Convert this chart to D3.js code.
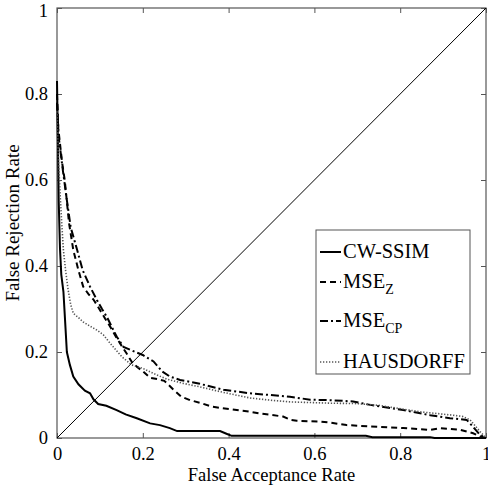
<!DOCTYPE html>
<html>
<head>
<meta charset="utf-8">
<script src="https://cdn.jsdelivr.net/npm/d3@7"></script>
<style>
  body { margin: 0; background: #fff; }
  text { font-family: "Liberation Serif", "Times New Roman", serif; }
</style>
</head>
<body>
<div id="chart"></div>
<script>
// ROC-style curves: false acceptance rate (x) vs false rejection rate (y)
var ticks = [0, 0.2, 0.4, 0.6, 0.8, 1];
var tickLabels = ["0", "0.2", "0.4", "0.6", "0.8", "1"];

var cwssimFar = [0, 0.002, 0.004, 0.007, 0.01, 0.015, 0.019, 0.023, 0.03, 0.038, 0.05, 0.065, 0.077, 0.085, 0.096, 0.115, 0.139, 0.16, 0.186, 0.217, 0.24, 0.263, 0.28, 0.38, 0.395, 0.407, 0.72, 0.735, 0.87, 0.88, 1];
var cwssimFrr = [0.83, 0.7, 0.55, 0.44, 0.38, 0.34, 0.27, 0.2, 0.17, 0.143, 0.125, 0.11, 0.104, 0.09, 0.079, 0.075, 0.065, 0.055, 0.046, 0.034, 0.03, 0.023, 0.016, 0.016, 0.01, 0.005, 0.005, 0.002, 0.002, 0, 0];

var mseZFar = [0, 0.003, 0.012, 0.018, 0.028, 0.038, 0.05, 0.061, 0.073, 0.085, 0.1, 0.112, 0.124, 0.136, 0.147, 0.162, 0.175, 0.186, 0.2, 0.217, 0.235, 0.25, 0.271, 0.29, 0.31, 0.333, 0.357, 0.38, 0.419, 0.45, 0.473, 0.527, 0.545, 0.559, 0.613, 0.636, 0.675, 0.75, 0.807, 0.87, 0.893, 0.94, 0.97, 0.986, 1];
var mseZFrr = [0.8, 0.72, 0.64, 0.6, 0.5, 0.437, 0.39, 0.352, 0.335, 0.322, 0.298, 0.278, 0.259, 0.238, 0.22, 0.197, 0.176, 0.166, 0.155, 0.14, 0.137, 0.133, 0.113, 0.096, 0.088, 0.082, 0.074, 0.07, 0.065, 0.061, 0.057, 0.05, 0.042, 0.04, 0.038, 0.036, 0.03, 0.026, 0.023, 0.019, 0.023, 0.019, 0.011, 0.004, 0];

var mseCpFar = [0, 0.004, 0.014, 0.022, 0.032, 0.047, 0.06, 0.077, 0.093, 0.105, 0.116, 0.128, 0.139, 0.155, 0.178, 0.2, 0.225, 0.245, 0.263, 0.287, 0.333, 0.388, 0.45, 0.497, 0.543, 0.59, 0.636, 0.69, 0.73, 0.807, 0.87, 0.916, 0.955, 0.97, 0.986, 1];
var mseCpFrr = [0.78, 0.7, 0.62, 0.56, 0.49, 0.437, 0.39, 0.352, 0.321, 0.3, 0.282, 0.258, 0.236, 0.212, 0.202, 0.193, 0.178, 0.155, 0.143, 0.135, 0.126, 0.112, 0.104, 0.1, 0.096, 0.089, 0.088, 0.085, 0.077, 0.065, 0.053, 0.046, 0.042, 0.026, 0.007, 0];

var hausFar = [0, 0.003, 0.007, 0.011, 0.015, 0.02, 0.026, 0.032, 0.038, 0.05, 0.061, 0.077, 0.093, 0.108, 0.12, 0.131, 0.151, 0.174, 0.2, 0.225, 0.256, 0.294, 0.333, 0.388, 0.45, 0.497, 0.543, 0.636, 0.7, 0.75, 0.846, 0.923, 0.946, 0.963, 0.986, 1];
var hausFrr = [0.76, 0.66, 0.57, 0.5, 0.437, 0.39, 0.344, 0.31, 0.29, 0.28, 0.27, 0.26, 0.251, 0.24, 0.225, 0.212, 0.189, 0.17, 0.162, 0.15, 0.137, 0.127, 0.119, 0.106, 0.093, 0.088, 0.084, 0.081, 0.08, 0.076, 0.061, 0.053, 0.05, 0.042, 0.015, 0];

var seriesNames = ["CW-SSIM", "MSE", "MSE", "HAUSDORFF"];
var seriesSubs = ["", "Z", "CP", ""];

var width = 488, height = 486;
var margin = { left: 57, right: 2, top: 8, bottom: 48 };
var figw = width - margin.left - margin.right,
    figh = height - margin.top - margin.bottom;

var series = [
  { far: cwssimFar, frr: cwssimFrr, dash: null, color: "#000", w: 2 },
  { far: mseZFar, frr: mseZFrr, dash: "6,4", color: "#000", w: 2 },
  { far: mseCpFar, frr: mseCpFrr, dash: "8,3,2,3", color: "#000", w: 2 },
  { far: hausFar, frr: hausFrr, dash: "1.3,1.7", color: "#555", w: 1.6 }
];

var xScale = d3.scaleLinear().domain([0, 1]).range([0, figw]);
var yScale = d3.scaleLinear().domain([0, 1]).range([figh, 0]);

var svg = d3.select("#chart").append("svg")
    .attr("width", width)
    .attr("height", height);

var g = svg.append("g")
    .attr("transform", "translate(" + margin.left + "," + margin.top + ")");

// axes with inward ticks on all four sides
var axisColor = "#555";
function styleAxis(sel) {
  sel.select(".domain").remove();
  sel.selectAll(".tick line").attr("stroke", axisColor);
  sel.selectAll("text")
    .style("font-family", "Liberation Serif")
    .style("font-size", "18.5px")
    .attr("fill", "#000");
}

g.append("g")
  .attr("transform", "translate(0," + figh + ")")
  .call(d3.axisBottom(xScale).tickValues(ticks).tickSize(-5).tickPadding(9)
    .tickFormat(function(d, i) { return tickLabels[i]; }))
  .call(styleAxis);

var yAxis = g.append("g")
  .call(d3.axisLeft(yScale).tickValues(ticks).tickSize(-5).tickPadding(9)
    .tickFormat(function(d, i) { return tickLabels[i]; }))
  .call(styleAxis);
// top label sits a little lower, as in the original
yAxis.selectAll(".tick text").filter(function(d) { return d === 1; })
  .attr("y", 3);

g.append("g")
  .call(d3.axisTop(xScale).tickValues(ticks).tickSize(-5).tickFormat(""))
  .call(styleAxis);

g.append("g")
  .attr("transform", "translate(" + figw + ",0)")
  .call(d3.axisRight(yScale).tickValues(ticks).tickSize(-5).tickFormat(""))
  .call(styleAxis);

// frame
g.append("rect")
  .attr("x", 0).attr("y", 0)
  .attr("width", figw).attr("height", figh)
  .attr("fill", "none")
  .attr("stroke", axisColor)
  .attr("stroke-width", 1.2);

// diagonal (equal error) line
g.append("line")
  .attr("x1", xScale(0)).attr("y1", yScale(0))
  .attr("x2", xScale(1)).attr("y2", yScale(1))
  .attr("stroke", "#000")
  .attr("stroke-width", 1);

var line = d3.line()
  .x(function(d) { return xScale(d[0]); })
  .y(function(d) { return yScale(d[1]); });

series.forEach(function(s) {
  var pts = s.far.map(function(f, i) { return [f, s.frr[i]]; });
  g.append("path")
    .datum(pts)
    .attr("d", line)
    .attr("fill", "none")
    .attr("stroke", s.color)
    .attr("stroke-width", s.w)
    .attr("stroke-dasharray", s.dash);
});

// axis titles
svg.append("text")
  .attr("x", margin.left + figw / 2)
  .attr("y", 481)
  .attr("text-anchor", "middle")
  .style("font-size", "18.5px")
  .text("False Acceptance Rate");

svg.append("text")
  .attr("transform", "translate(19," + (margin.top + figh / 2) + ") rotate(-90)")
  .attr("text-anchor", "middle")
  .style("font-size", "19px")
  .text("False Rejection Rate");

// legend
var legend = svg.append("g");
legend.append("rect")
  .attr("x", 316).attr("y", 230)
  .attr("width", 154).attr("height", 144)
  .attr("fill", "#fff")
  .attr("stroke", axisColor)
  .attr("stroke-width", 1);

var legendY = [252, 282, 321, 362];
series.forEach(function(s, i) {
  legend.append("line")
    .attr("x1", 320).attr("x2", 341)
    .attr("y1", legendY[i]).attr("y2", legendY[i])
    .attr("stroke", s.color)
    .attr("stroke-width", s.w)
    .attr("stroke-dasharray", s.dash);
  var t = legend.append("text")
    .attr("x", 343)
    .attr("y", legendY[i] + 6)
    .style("font-size", "20.5px")
    .text(seriesNames[i]);
  if (seriesSubs[i]) {
    t.append("tspan")
      .attr("dy", 6)
      .style("font-size", "14px")
      .text(seriesSubs[i]);
  }
});
</script>
</body>
</html>
